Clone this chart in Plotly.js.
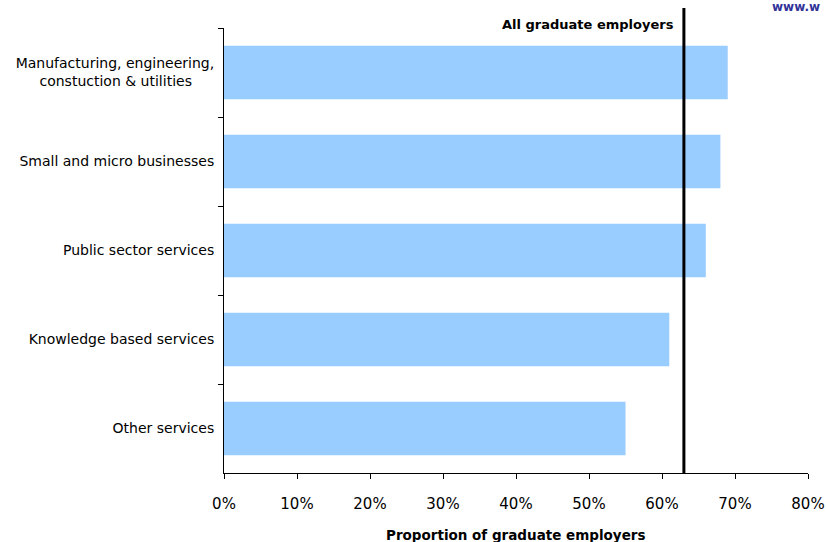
<!DOCTYPE html>
<html>
<head>
<meta charset="utf-8">
<script src="https://cdn.plot.ly/plotly-3.0.1.min.js"></script>
<style>html,body{margin:0;padding:0;background:#fff;}#chart{width:826px;height:542px;}</style>
</head>
<body>
<div id="chart"></div>
<script>
const categories = [
  "Manufacturing, engineering,<br>constuction &amp; utilities&nbsp;&nbsp;&nbsp;&nbsp;&nbsp;",
  "Small and micro businesses",
  "Public sector services",
  "Knowledge based services",
  "Other services"
];
const values = [0.69, 0.68, 0.66, 0.61, 0.55];
const allGraduateEmployers = 0.63;
const xTickVals = [0, 0.1, 0.2, 0.3, 0.4, 0.5, 0.6, 0.7, 0.8];
const xTickText = ["0%", "10%", "20%", "30%", "40%", "50%", "60%", "70%", "80%"];

const font = "Tahoma, 'DejaVu Sans', Verdana, sans-serif";

const data = [{
  type: "bar",
  orientation: "h",
  y: categories,
  x: values,
  marker: {color: "#99ccff"},
  hoverinfo: "x+y"
}];

const layout = {
  width: 826, height: 542,
  margin: {l: 224, r: 18, t: 28, b: 69},
  paper_bgcolor: "#fff", plot_bgcolor: "#fff",
  showlegend: false,
  bargap: 0.4,
  font: {family: font, color: "#000", size: 14},
  xaxis: {
    range: [0, 0.8],
    tickvals: xTickVals, ticktext: xTickText,
    tickfont: {size: 15, family: font},
    showgrid: false, zeroline: false,
    showline: true, linecolor: "#000", linewidth: 1,
    ticks: "outside", ticklen: 5, tickcolor: "#000",
    ticklabelstandoff: 12,
    fixedrange: true
  },
  yaxis: {
    autorange: "reversed",
    type: "category",
    tickson: "boundaries",
    showgrid: false, zeroline: false,
    showline: true, linecolor: "#000", linewidth: 1,
    ticks: "outside", ticklen: 5, tickcolor: "#000",
    tickfont: {size: 14, family: font},
    ticklabelstandoff: 6,
    fixedrange: true
  },
  shapes: [{
    type: "line", xref: "x", yref: "paper",
    x0: allGraduateEmployers, x1: allGraduateEmployers,
    y0: 0, y1: 1.045,
    line: {color: "#000", width: 3}
  }],
  annotations: [
    {
      text: "<b>All graduate employers</b>",
      xref: "x", yref: "paper",
      x: allGraduateEmployers, y: 1,
      xanchor: "right", yanchor: "middle", xshift: -8, yshift: 4,
      showarrow: false, font: {size: 13, family: font, color: "#000"}
    },
    {
      text: "<b>Proportion of graduate employers</b>",
      xref: "paper", yref: "paper",
      x: 0.5, y: 0, yshift: -52,
      xanchor: "center", yanchor: "top",
      showarrow: false, font: {size: 13.5, family: font, color: "#000"}
    },
    {
      text: "<b>www.w</b>",
      xref: "paper", yref: "paper",
      x: 1.024, y: 1, yshift: 30,
      xanchor: "right", yanchor: "top",
      showarrow: false, font: {size: 12, family: font, color: "#333399"}
    }
  ]
};

Plotly.newPlot("chart", data, layout, {displayModeBar: false, staticPlot: true});
</script>
</body>
</html>
